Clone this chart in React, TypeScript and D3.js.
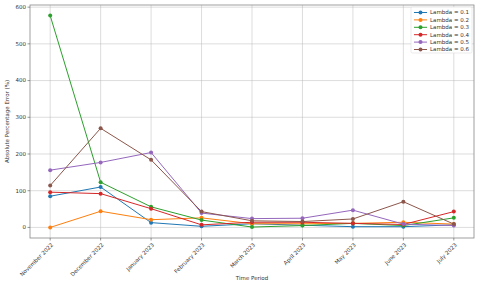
import React from 'react';
import * as d3 from 'd3';

const months = ['November 2022', 'December 2022', 'January 2023', 'February 2023', 'March 2023',
    'April 2023', 'May 2023', 'June 2023', 'July 2023'];

const lambdas = ['Lambda = 0.1', 'Lambda = 0.2', 'Lambda = 0.3', 'Lambda = 0.4', 'Lambda = 0.5', 'Lambda = 0.6'];

const l01 = [85, 110, 13, 3, 10, 6, 2, 2, 7];
const l02 = [0, 44, 21, 26, 10, 10, 11, 14, 9];
const l03 = [577, 123, 56, 20, 1, 5, 11, 5, 26];
const l04 = [96, 92, 51, 7, 14, 14, 11, 8, 43];
const l05 = [156, 177, 204, 39, 24, 25, 47, 9, 5];
const l06 = [114, 270, 184, 43, 18, 16, 23, 70, 9];

const series = [l01, l02, l03, l04, l05, l06];
const yTicks = [0, 100, 200, 300, 400, 500, 600];
const colors = ['#1f77b4', '#ff7f0e', '#2ca02c', '#d62728', '#9467bd', '#8c564b'];

const W = 480, H = 285;
const margin = {left: 30, right: 6, top: 5, bottom: 47};

const App = () => {
    const x = d3.scalePoint<string>()
        .domain(months)
        .range([margin.left, W - margin.right])
        .padding(0.4);

    const maxV = d3.max(series.flat()) as number;
    const pad = maxV * 0.05;
    const y = d3.scaleLinear()
        .domain([-pad, maxV + pad])
        .range([H - margin.bottom, margin.top]);

    const line = d3.line<number>()
        .x((d, i) => x(months[i]) as number)
        .y(d => y(d));

    const font = 'DejaVu Sans, sans-serif';
    const left = margin.left, right = W - margin.right;
    const top = margin.top, bottom = H - margin.bottom;

    return (
        <svg width={W} height={H} style={{position: 'absolute', left: 0, top: 0}} fontFamily={font}>
            <rect width={W} height={H} fill="#fff"/>
            {/* grid */}
            {months.map(m => (
                <line key={m} x1={x(m)} x2={x(m)} y1={top} y2={bottom} stroke="#b0b0b0" strokeOpacity={0.55} strokeWidth={0.8}/>
            ))}
            {yTicks.map(t => (
                <line key={t} x1={left} x2={right} y1={y(t)} y2={y(t)} stroke="#b0b0b0" strokeOpacity={0.55} strokeWidth={0.8}/>
            ))}
            {/* lines */}
            {series.map((s, i) => (
                <g key={i}>
                    <path d={line(s) as string} fill="none" stroke={colors[i]} strokeWidth={1}/>
                    {s.map((v, j) => (
                        <circle key={j} cx={x(months[j])} cy={y(v)} r={2} fill={colors[i]}/>
                    ))}
                </g>
            ))}
            {/* frame */}
            <rect x={left} y={top} width={right - left} height={bottom - top} fill="none" stroke="#888" strokeWidth={0.8}/>
            {/* y ticks */}
            {yTicks.map(t => (
                <g key={t}>
                    <line x1={left - 2.5} x2={left} y1={y(t)} y2={y(t)} stroke="#555" strokeWidth={0.6}/>
                    <text x={left - 4} y={y(t)} dy="0.35em" textAnchor="end" fontSize={5.5} fill="#333">{t}</text>
                </g>
            ))}
            {/* x ticks */}
            {months.map(m => (
                <g key={m}>
                    <line x1={x(m)} x2={x(m)} y1={bottom} y2={bottom + 2.5} stroke="#555" strokeWidth={0.6}/>
                    <text transform={`translate(${(x(m) as number) + 2},${bottom + 6}) rotate(-45)`}
                          textAnchor="end" dy="0.35em" fontSize={5.5} fill="#333">{m}</text>
                </g>
            ))}
            <text x={(left + right) / 2} y={H - 5} textAnchor="middle" fontSize={5.5} fill="#333">Time Period</text>
            <text transform={`translate(9,${(top + bottom) / 2}) rotate(-90)`} textAnchor="middle" fontSize={5.5} fill="#333">
                Absolute Percentage Error (%)
            </text>
            {/* legend */}
            <g transform={`translate(${right - 63},${top + 2})`}>
                <rect width={61} height={46} rx={1.5} fill="#fff" fillOpacity={0.85} stroke="#ddd" strokeWidth={0.6}/>
                {lambdas.map((l, i) => (
                    <g key={l} transform={`translate(0,${5.5 + i * 7.4})`}>
                        <line x1={3} x2={16} stroke={colors[i]} strokeWidth={1}/>
                        <circle cx={9.5} cy={0} r={2} fill={colors[i]}/>
                        <text x={19} dy="0.35em" fontSize={5.5} fill="#333">{l}</text>
                    </g>
                ))}
            </g>
        </svg>
    );
};

export default App;
